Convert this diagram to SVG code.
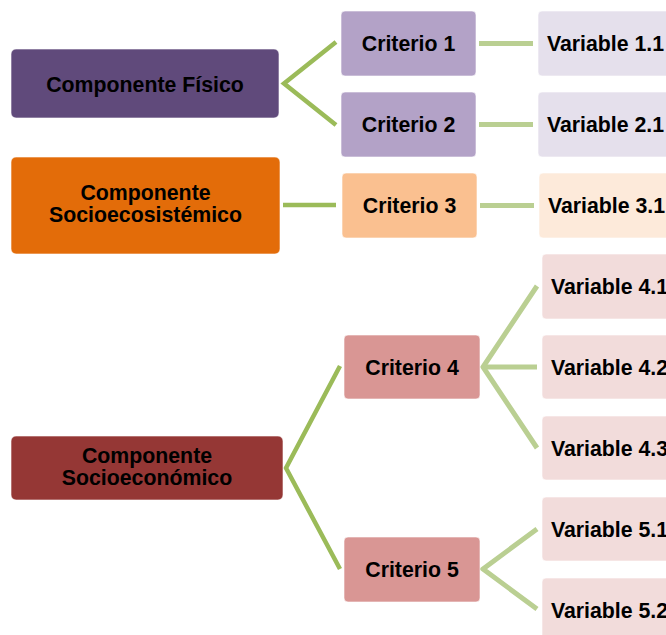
<svg xmlns="http://www.w3.org/2000/svg" width="666" height="635" viewBox="0 0 666 635">
<style>
text{font-family:"Liberation Sans",Arial,sans-serif;font-weight:bold;font-size:21.3px;fill:#000;text-anchor:middle}
rect{stroke:#ffffff;stroke-width:1;stroke-opacity:0.6}
.c1{stroke:#9BBB59;stroke-width:4.5;fill:none;stroke-linejoin:miter}
.c2{stroke:#BACF92;stroke-width:5;fill:none;stroke-linejoin:miter}
</style>
<rect width="666" height="635" fill="#ffffff" style="stroke:none"/>
<g id="connectors">
<polyline class="c1" points="336,42 284,83.5 336,125"/>
<line class="c1" x1="283" y1="205" x2="336" y2="205"/>
<polyline class="c1" points="340,366 286,468 340,569"/>
<line class="c2" x1="479" y1="43.5" x2="533" y2="43.5"/>
<line class="c2" x1="479" y1="124.5" x2="533" y2="124.5"/>
<line class="c2" x1="480" y1="205.5" x2="534" y2="205.5"/>
<polyline class="c2" points="537,286 483,367 537,448"/>
<line class="c2" x1="483" y1="367" x2="537" y2="367"/>
<polyline class="c2" points="537,529 483,569 537,609"/>
</g>
<g id="comp-fisico">
<rect x="11" y="49" width="268" height="69" rx="5" fill="#604A7B"/>
<text x="145" y="91.5">Componente Físico</text>
</g>
<g id="comp-socioeco">
<rect x="11" y="157" width="269" height="97" rx="5" fill="#E36C09"/>
<text x="145.5" y="200">Componente</text>
<text x="145.5" y="222">Socioecosistémico</text>
</g>
<g id="comp-socioecon">
<rect x="11" y="436" width="272" height="64" rx="5" fill="#953735"/>
<text x="147" y="463">Componente</text>
<text x="147" y="485">Socioeconómico</text>
</g>
<g id="criterio1">
<rect x="341" y="11" width="135" height="65" rx="4" fill="#B3A2C7"/>
<text x="408.5" y="51">Criterio 1</text>
</g>
<g id="criterio2">
<rect x="341" y="92" width="135" height="65" rx="4" fill="#B3A2C7"/>
<text x="408.5" y="132">Criterio 2</text>
</g>
<g id="criterio3">
<rect x="342" y="173" width="135" height="65" rx="4" fill="#FAC090"/>
<text x="409.5" y="213">Criterio 3</text>
</g>
<g id="criterio4">
<rect x="344" y="335" width="136" height="64" rx="4" fill="#D99694"/>
<text x="412" y="374.5">Criterio 4</text>
</g>
<g id="criterio5">
<rect x="344" y="537" width="136" height="65" rx="4" fill="#D99694"/>
<text x="412" y="577">Criterio 5</text>
</g>
<g id="var11">
<rect x="538" y="11" width="135" height="65" rx="4" fill="#E5E0EC"/>
<text x="605.5" y="51">Variable 1.1</text>
</g>
<g id="var21">
<rect x="538" y="92" width="135" height="65" rx="4" fill="#E5E0EC"/>
<text x="605.5" y="132">Variable 2.1</text>
</g>
<g id="var31">
<rect x="539" y="173" width="135" height="65" rx="4" fill="#FDEADA"/>
<text x="606.5" y="213">Variable 3.1</text>
</g>
<g id="var41">
<rect x="542" y="254" width="135" height="65" rx="4" fill="#F2DCDB"/>
<text x="609.5" y="294">Variable 4.1</text>
</g>
<g id="var42">
<rect x="542" y="335" width="135" height="64" rx="4" fill="#F2DCDB"/>
<text x="609.5" y="374.5">Variable 4.2</text>
</g>
<g id="var43">
<rect x="542" y="416" width="135" height="64" rx="4" fill="#F2DCDB"/>
<text x="609.5" y="455.5">Variable 4.3</text>
</g>
<g id="var51">
<rect x="542" y="497" width="135" height="64" rx="4" fill="#F2DCDB"/>
<text x="609.5" y="536.5">Variable 5.1</text>
</g>
<g id="var52">
<rect x="542" y="578" width="135" height="65" rx="4" fill="#F2DCDB"/>
<text x="609.5" y="617.5">Variable 5.2</text>
</g>
</svg>
